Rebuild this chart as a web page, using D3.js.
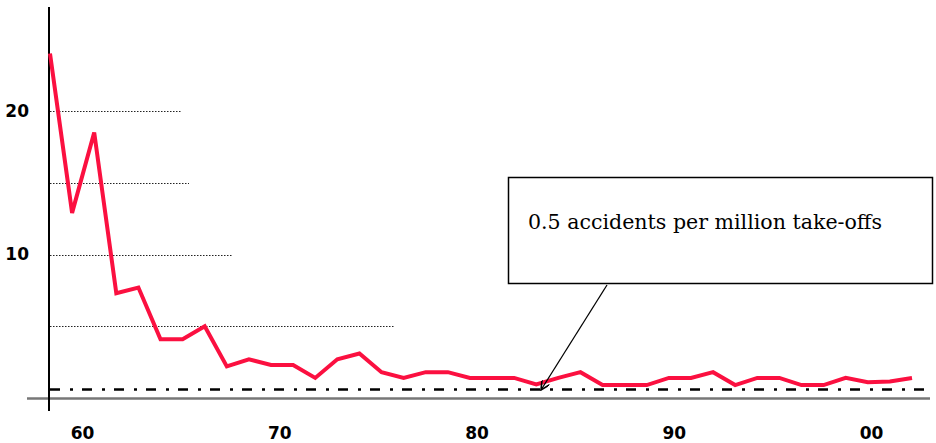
<!DOCTYPE html>
<html>
<head>
<meta charset="utf-8">
<script src="https://cdn.jsdelivr.net/npm/d3@7"></script>
<style>
  body { margin: 0; background: #fff; }
  .tick text { font-family: "DejaVu Sans", Verdana, sans-serif; font-weight: bold; font-size: 17px; fill: #000; }
  .note { font-family: "DejaVu Serif", "Liberation Serif", serif; font-size: 20px; fill: #000; }
</style>
</head>
<body>
<div id="chart"></div>
<script>
// Data
var years = [1959, 1960, 1961, 1962, 1963, 1964, 1965, 1966, 1967, 1968,
  1969, 1970, 1971, 1972, 1973, 1974, 1975, 1976, 1977, 1978,
  1979, 1980, 1981, 1982, 1983, 1984, 1985, 1986, 1987, 1988,
  1989, 1990, 1991, 1992, 1993, 1994, 1995, 1996, 1997, 1998];
var rates = [24.0, 12.9, 18.5, 7.3, 7.7, 4.1, 4.1, 5.0, 2.2, 2.7,
  2.3, 2.3, 1.4, 2.7, 3.1, 1.8, 1.4, 1.8, 1.8, 1.4,
  1.4, 1.4, 0.95, 1.4, 1.8, 0.9, 0.9, 0.9, 1.4, 1.4,
  1.8, 0.9, 1.4, 1.4, 0.9, 0.9, 1.4, 1.1, 1.15, 1.4];
var decadeLabels = ["60", "70", "80", "90", "00"];
var yTicks = [10, 20];
var gridValues = [20, 15, 10, 5];
var target = 0.6;
var noteText = "0.5 accidents per million take-offs";

// Layout
var width = 936, height = 443;
var gridEnds = [182, 189, 233, 394];

var svg = d3.select("#chart").append("svg")
  .attr("width", width)
  .attr("height", height);

var x = d3.scaleLinear()
  .domain([years[0], years[years.length - 1]])
  .range([50, 912]);

var xLabel = d3.scalePoint()
  .domain(decadeLabels)
  .range([82, 871]);

var y = d3.scaleLinear()
  .domain([0, 20])
  .range([398, 111]);

// Dotted grid lines
svg.append("g")
  .selectAll("line")
  .data(gridValues)
  .enter()
  .append("line")
  .attr("x1", 50)
  .attr("x2", (d, i) => gridEnds[i])
  .attr("y1", d => Math.round(y(d)) + 0.5)
  .attr("y2", d => Math.round(y(d)) + 0.5)
  .attr("stroke", "#222")
  .attr("stroke-width", 1)
  .attr("stroke-dasharray", "1.5,1.5");

// Y labels
svg.append("g")
  .attr("transform", "translate(49,0)")
  .call(d3.axisLeft(y).tickValues(yTicks).tickSize(0).tickPadding(20))
  .call(g => g.select(".domain").remove());

// X labels
svg.append("g")
  .attr("transform", "translate(0,398)")
  .call(d3.axisBottom(xLabel).tickSize(0).tickPadding(29))
  .call(g => g.select(".domain").remove());

// Axis lines
svg.append("line")
  .attr("x1", 27).attr("x2", 930)
  .attr("y1", 398.5).attr("y2", 398.5)
  .attr("stroke", "#777").attr("stroke-width", 2.5);

svg.append("line")
  .attr("x1", 49).attr("x2", 49)
  .attr("y1", 7).attr("y2", 411)
  .attr("stroke", "#000").attr("stroke-width", 2);

// Target dash-dot line
svg.append("line")
  .attr("x1", 50).attr("x2", 930)
  .attr("y1", y(target)).attr("y2", y(target))
  .attr("stroke", "#000")
  .attr("stroke-width", 2.5)
  .attr("stroke-dasharray", "10,10,3,9");

// Rate line
var line = d3.line()
  .x((d, i) => x(years[i]))
  .y(d => y(d));

svg.append("path")
  .datum(rates)
  .attr("d", line)
  .attr("fill", "none")
  .attr("stroke", "#fb1040")
  .attr("stroke-width", 4)
  .attr("stroke-linejoin", "miter");

// Annotation
svg.append("defs").append("marker")
  .attr("id", "arrow")
  .attr("viewBox", "0 0 10 10")
  .attr("refX", 10).attr("refY", 5)
  .attr("markerWidth", 11).attr("markerHeight", 9)
  .attr("markerUnits", "userSpaceOnUse")
  .attr("orient", "auto")
  .append("path")
  .attr("d", "M0,0L10,5L0,10")
  .attr("fill", "none")
  .attr("stroke", "#000")
  .attr("stroke-width", 1.8);

svg.append("line")
  .attr("x1", 607).attr("y1", 285)
  .attr("x2", 541).attr("y2", 390)
  .attr("stroke", "#000")
  .attr("stroke-width", 1.3)
  .attr("marker-end", "url(#arrow)");

svg.append("rect")
  .attr("x", 508.5).attr("y", 177.5)
  .attr("width", 424).attr("height", 106)
  .attr("fill", "#fff")
  .attr("stroke", "#000")
  .attr("stroke-width", 1.5);

svg.append("text")
  .attr("class", "note")
  .attr("x", 528)
  .attr("y", 229)
  .attr("textLength", 354)
  .attr("lengthAdjust", "spacingAndGlyphs")
  .text(noteText);
</script>
</body>
</html>
